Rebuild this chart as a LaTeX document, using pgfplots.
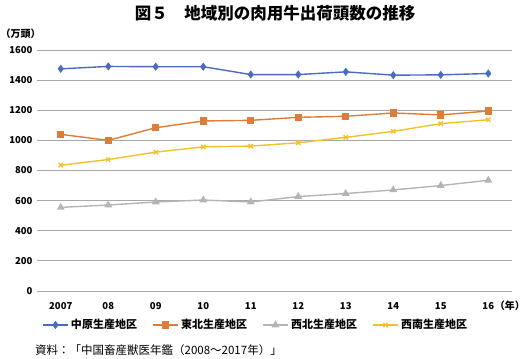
\documentclass[border=0pt]{standalone}
\usepackage{pgfplots}
\pgfplotsset{compat=1.18}
\usepackage{fontspec}
\setmainfont{Noto Sans CJK JP}
\definecolor{cblue}{HTML}{4A6BBE}
\definecolor{corange}{HTML}{DC7E3A}
\definecolor{cgray}{HTML}{B4B4B4}
\definecolor{cyellow}{HTML}{F2C22A}
\definecolor{cgrid}{HTML}{A8A8A8}
\begin{document}
\begin{tikzpicture}
\path[use as bounding box] (0pt,0pt) rectangle (526pt,-358pt);
\node[font=\bfseries\fontsize{16.5}{17}\selectfont] at (275pt,-13pt) {図５　地域別の肉用牛出荷頭数の推移};
\node[font=\bfseries\fontsize{10}{10}\selectfont, anchor=west, inner sep=0pt] at (0.5pt,-34pt) {（万頭）};
\node[font=\bfseries\fontsize{10}{10}\selectfont, anchor=east, inner sep=0pt] at (525pt,-306pt) {（年）};
\node[font=\fontsize{11.5}{12}\selectfont, anchor=west, inner sep=0pt] at (35pt,-350pt) {資料：「中国畜産獣医年鑑（2008～2017年）」};
\begin{axis}[
  at={(37pt,-291pt)}, anchor=south west,
  scale only axis, width=475pt, height=241pt,
  xmin=-0.5, xmax=9.5, ymin=0, ymax=1600,
  ytick={0,200,...,1600},
  xtick={0,...,9},
  xticklabels={2007,08,09,10,11,12,13,14,15,16},
  ymajorgrids,
  major grid style={color=cgrid, line width=0.8pt},
  axis line style={draw=none},
  tick style={draw=none},
  /pgf/number format/assume math mode=true,
  /pgf/number format/1000 sep={},
  tick label style={font=\bfseries\fontsize{9.5}{10}\selectfont},
  yticklabel style={xshift=-1pt},
  xticklabel style={yshift=-8pt},
  legend columns=4,
  legend style={at={(0.46,-0.141)}, anchor=center, draw=none, fill=none,
    font=\bfseries\fontsize{11}{11}\selectfont,
    /tikz/every even column/.append style={column sep=13pt}},
  legend image code/.code={\draw[mark repeat=2,mark phase=2,#1] plot coordinates {(0cm,0cm) (0.45cm,0cm) (0.9cm,0cm)};},
  every axis plot/.append style={line width=1.4pt},
]
\addplot[color=cblue, mark=diamond*, mark size=3pt, mark options={solid}] coordinates {
(0,1475) (1,1491) (2,1489) (3,1489) (4,1437) (5,1437) (6,1455) (7,1433) (8,1435) (9,1444)};
\addlegendentry{中原生産地区}
\addplot[color=corange, mark=square*, mark size=3pt] coordinates {
(0,1040) (1,1000) (2,1084) (3,1129) (4,1133) (5,1153) (6,1160) (7,1182) (8,1169) (9,1195)};
\addlegendentry{東北生産地区}
\addplot[color=cgray, mark=triangle*, mark size=3.2pt] coordinates {
(0,555) (1,571) (2,591) (3,604) (4,591) (5,627) (6,647) (7,671) (8,700) (9,735)};
\addlegendentry{西北生産地区}
\addplot[color=cyellow, mark=x, mark size=3pt] coordinates {
(0,835) (1,873) (2,922) (3,957) (4,962) (5,984) (6,1020) (7,1060) (8,1111) (9,1137)};
\addlegendentry{西南生産地区}
\end{axis}
\end{tikzpicture}
\end{document}
